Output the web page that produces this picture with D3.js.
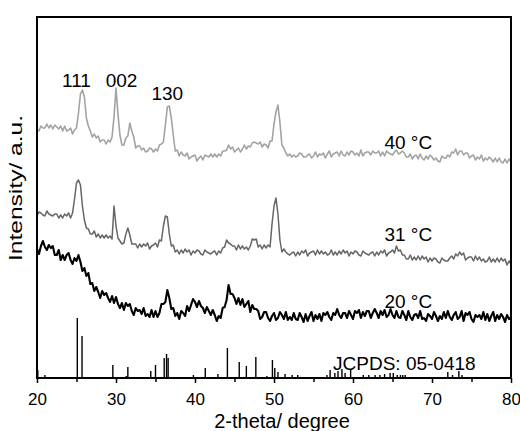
<!DOCTYPE html>
<html>
<head>
<meta charset="utf-8">
<script src="https://cdn.jsdelivr.net/npm/d3@7"></script>
<style>
  body { margin: 0; background: #fff; }
  svg text { font-family: "Liberation Sans", Arial, sans-serif; fill: #000; }
</style>
</head>
<body>
<svg id="xrd" width="520" height="431"></svg>
<script>
// 2-theta grid: 20 to 80 degrees, 0.25 degree step
var thetaStart = 20;
var thetaStep = 0.25;

// intensity (a.u.), one row per degree
var trace40 = [
    249,247,252,250, 250,254,250,253, 249,253,251,249, 252,247,252,247,
    248,250,244,248, 250,265,284,288, 281,260,252,247, 241,244,240,242,
    236,238,238,234, 238,236,241,261, 290,264,243,233, 233,240,242,255,
    247,241,230,232, 232,228,230,226, 227,230,229,226, 229,227,233,234,
    236,253,271,272, 260,243,227,228, 222,226,223,222, 225,219,221,222,
    223,217,220,222, 218,223,222,221, 224,221,224,221, 224,222,227,227,
    228,233,229,231, 226,228,230,226, 229,233,229,232, 231,235,236,235,
    234,236,231,234, 233,230,237,237, 254,266,273,256, 233,230,225,222,
    224,221,223,221, 222,225,224,221, 221,223,224,220, 222,226,221,224,
    223,225,220,224, 227,221,224,225, 226,222,227,223, 222,226,223,227,
    226,223,225,222, 228,222,225,226, 226,223,227,225, 225,227,222,226,
    222,227,225,224, 223,226,228,224, 225,227,225,221, 221,224,219,222,
    223,219,224,220, 218,222,219,223, 221,218,220,217, 216,222,220,220,
    223,221,226,225, 229,223,227,227, 223,225,225,220, 222,223,218,221,
    219,223,217,220, 218,221,219,216, 220,216,220,216, 215,219,215,219,
    216
];

var trace31 = [
    162,166,165,163, 162,167,164,163, 162,164,164,160, 163,160,164,162,
    165,160,165,179, 195,198,193,172, 158,150,149,144, 144,147,141,144,
    140,143,140,143, 140,142,139,172, 152,140,137,134, 135,144,150,143,
    134,134,134,130, 134,131,134,132, 135,129,132,133, 135,131,138,137,
    152,162,161,144, 132,133,126,128, 124,128,125,129, 126,128,123,127,
    125,128,127,124, 123,128,126,125, 124,126,127,123, 127,125,130,131,
    138,135,134,132, 132,128,133,129, 132,129,131,128, 132,139,138,139,
    131,133,129,133, 130,133,131,154, 172,180,164,138, 126,129,126,124,
    123,125,126,122, 126,123,127,125, 128,122,125,126, 127,123,128,124,
    127,124,126,123, 124,128,123,126, 123,127,124,128, 125,127,122,126,
    124,127,126,123, 122,127,125,124, 123,125,126,122, 126,123,127,125,
    128,122,125,126, 128,125,132,127, 128,123,123,119, 119,123,118,121,
    118,122,118,122, 119,121,116,120, 117,120,119,116, 115,120,118,117,
    117,120,122,119, 124,122,126,123, 125,118,120,121, 121,117,122,118,
    121,117,119,116, 117,121,116,119, 116,120,116,120, 117,119,113,117,
    114
];

var trace20 = [
    129,124,132,137, 131,128,133,130, 132,123,123,128, 118,123,118,123,
    125,118,114,120, 117,123,116,107, 110,102,105,94, 95,87,91,86,
    80,87,83,85, 80,76,82,75, 81,74,70,75, 68,75,72,74,
    67,63,70,67, 68,64,70,62, 64,61,68,61, 67,61,65,74,
    74,76,88,80, 69,70,62,65, 59,67,65,62, 72,67,73,79,
    76,71,77,72, 70,65,71,67, 63,68,63,57, 62,60,70,71,
    78,93,84,84, 80,74,80,73, 79,71,74,77, 66,73,69,69,
    67,59,61,66, 66,60,57,62, 65,58,60,66, 63,59,66,58,
    61,58,65,59, 58,65,61,56, 64,57,62,66, 57,63,59,64,
    57,65,63,66, 61,58,65,63, 69,63,60,65, 65,60,67,63,
    59,67,65,68, 60,66,62,67, 67,60,65,69, 65,60,67,63,
    68,61,63,69, 63,60,67,61, 60,67,63,58, 67,61,58,63,
    64,60,67,59, 60,57,64,62, 59,66,62,57, 62,59,66,60,
    67,61,58,63, 66,59,61,67, 57,65,63,66, 59,56,63,61,
    63,59,66,58, 64,57,62,66, 57,63,59,64, 61,56,63,59,
    60
];

// JCPDS 05-0418 reference lines
var refTheta = [20.1, 21.0, 25.1, 25.7, 29.6, 31.3, 31.5, 34.4, 35.0, 36.1, 36.4, 36.6,
    39.8, 41.3, 42.9, 44.1, 45.6, 46.5, 47.7, 49.1, 49.8, 50.1, 50.5, 51.4, 52.3, 53.0,
    56.7, 57.1, 57.7, 58.1, 58.6, 59.0, 59.7, 61.3, 62.0, 62.8, 63.4, 64.0, 64.7, 65.1,
    65.6, 66.0, 66.3, 66.6, 72.0, 72.6, 73.4, 73.8];
var refIntensity = [8, 3, 60, 42, 13, 2, 11, 7, 13, 20, 24, 20,
    3, 10, 4, 30, 16, 12, 21, 2, 18, 10, 6, 4, 3, 3,
    3, 8, 5, 7, 9, 5, 9, 3, 3, 3, 3, 4, 5, 5,
    3, 3, 3, 3, 6, 3, 7, 3];

var majorTicks = [20, 30, 40, 50, 60, 70, 80];
var minorTicks = [25, 35, 45, 55, 65, 75];

var series = [
    { name: '40 \u00B0C', values: trace40, color: '#a3a3a3', width: 1.6 },
    { name: '31 \u00B0C', values: trace31, color: '#666666', width: 1.5 },
    { name: '20 \u00B0C', values: trace20, color: '#000000', width: 2.1 }
];

var peaks = [
    { label: '111', theta: 25.0, y: 87 },
    { label: '002', theta: 30.7, y: 87 },
    { label: '130', theta: 36.5, y: 100 }
];

var margin = { top: 17, right: 9, bottom: 53, left: 37 };
var svg = d3.select('svg#xrd');
var width = +svg.attr('width') - margin.left - margin.right;
var height = +svg.attr('height') - margin.top - margin.bottom;

var x = d3.scaleLinear().domain([20, 80]).range([margin.left, margin.left + width]);
var y = d3.scaleLinear().domain([0, height]).range([margin.top + height, margin.top]);

var line = d3.line()
    .x(function(d, i) { return x(thetaStart + i * thetaStep); })
    .y(function(d) { return y(d); });

series.forEach(function(s) {
    svg.append('path')
        .datum(s.values)
        .attr('fill', 'none')
        .attr('stroke', s.color)
        .attr('stroke-width', s.width)
        .attr('stroke-linejoin', 'round')
        .attr('d', line);
});

// reference sticks
svg.append('g').selectAll('line')
    .data(refTheta)
    .enter().append('line')
        .attr('x1', function(d) { return x(d); })
        .attr('x2', function(d) { return x(d); })
        .attr('y1', y(0))
        .attr('y2', function(d, i) { return y(refIntensity[i]); })
        .attr('stroke', '#000')
        .attr('stroke-width', 1.4);

// bottom axis, major and minor ticks
var axisMajor = d3.axisBottom(x).tickValues(majorTicks).tickSize(5).tickPadding(10)
    .tickFormat(d3.format('d'));
var axisMinor = d3.axisBottom(x).tickValues(minorTicks).tickSize(4).tickFormat('');

var gx = svg.append('g').attr('transform', 'translate(0,' + y(0) + ')').call(axisMajor);
gx.select('.domain').remove();
gx.selectAll('line').attr('stroke-width', 1.5);
gx.selectAll('text').attr('font-size', 17).attr('font-family', '"Liberation Sans", Arial, sans-serif');

var gm = svg.append('g').attr('transform', 'translate(0,' + y(0) + ')').call(axisMinor);
gm.select('.domain').remove();
gm.selectAll('line').attr('stroke-width', 1.5);

// frame
svg.append('rect')
    .attr('x', margin.left)
    .attr('y', margin.top)
    .attr('width', width)
    .attr('height', height)
    .attr('fill', 'none')
    .attr('stroke', '#000')
    .attr('stroke-width', 2);

// peak indices
svg.selectAll('.peak')
    .data(peaks)
    .enter().append('text')
        .attr('class', 'peak')
        .attr('x', function(d) { return x(d.theta); })
        .attr('y', function(d) { return d.y; })
        .attr('text-anchor', 'middle')
        .attr('font-size', 19)
        .text(function(d) { return d.label; });

// series labels
var labelY = [149, 241, 308];
series.forEach(function(s, i) {
    svg.append('text')
        .attr('x', x(67.0))
        .attr('y', labelY[i])
        .attr('text-anchor', 'middle')
        .attr('font-size', 19)
        .text(s.name);
});

svg.append('text')
    .attr('x', x(66.5))
    .attr('y', 370)
    .attr('text-anchor', 'middle')
    .attr('font-size', 19)
    .text('JCPDS: 05-0418');

// axis titles
svg.append('text')
    .attr('x', 282)
    .attr('y', 428)
    .attr('text-anchor', 'middle')
    .attr('font-size', 20)
    .text('2-theta/ degree');

svg.append('text')
    .attr('transform', 'translate(22,188) rotate(-90)')
    .attr('text-anchor', 'middle')
    .attr('font-size', 19)
    .attr('textLength', 146)
    .attr('lengthAdjust', 'spacingAndGlyphs')
    .text('Intensity/ a.u.');
</script>
</body>
</html>
